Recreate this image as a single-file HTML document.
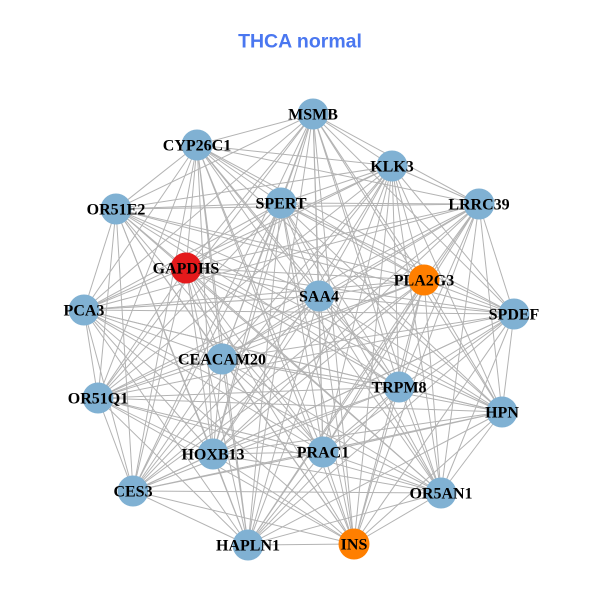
<!DOCTYPE html>
<html><head><meta charset="utf-8"><style>
html,body{margin:0;padding:0;background:#fff;}
svg{display:block;}
</style></head><body>
<svg id="g" width="600" height="600" xmlns="http://www.w3.org/2000/svg">
<rect width="600" height="600" fill="#fff"/>
<text x="300" y="47.5" text-anchor="middle" font-family="Liberation Sans, sans-serif" font-weight="bold" font-size="19.5" fill="#4a77f0">THCA normal</text>
<g id="edges" stroke="#b3b3b3" stroke-width="1" fill="none">
</g>
<g id="nodes"></g>
<g id="labels" font-family="Liberation Serif, serif" font-weight="bold" font-size="16" fill="#000" text-anchor="middle"></g>
</svg>
<script>
var N=[
["MSMB",313,114,"#80b1d3"],
["CYP26C1",197,145,"#80b1d3"],
["KLK3",392,166,"#80b1d3"],
["LRRC39",479,204,"#80b1d3"],
["OR51E2",116,209,"#80b1d3"],
["SPERT",281,203,"#80b1d3"],
["GAPDHS",186,268,"#e41a1c"],
["PLA2G3",424,280,"#ff7f00"],
["SAA4",319,296,"#80b1d3"],
["PCA3",84,310,"#80b1d3"],
["SPDEF",514,314,"#80b1d3"],
["CEACAM20",222,359,"#80b1d3"],
["TRPM8",399,387,"#80b1d3"],
["OR51Q1",98,398,"#80b1d3"],
["HPN",502,412,"#80b1d3"],
["HOXB13",213,454,"#80b1d3"],
["PRAC1",323,452,"#80b1d3"],
["CES3",133,491,"#80b1d3"],
["OR5AN1",441,493,"#80b1d3"],
["HAPLN1",248,545,"#80b1d3"],
["INS",354,544,"#ff7f00"]
];
var ns="http://www.w3.org/2000/svg";
var E=document.getElementById("edges"),Nd=document.getElementById("nodes"),L=document.getElementById("labels");
for(var i=0;i<N.length;i++)for(var j=i+1;j<N.length;j++){
var l=document.createElementNS(ns,"line");
l.setAttribute("x1",N[i][1]);l.setAttribute("y1",N[i][2]);l.setAttribute("x2",N[j][1]);l.setAttribute("y2",N[j][2]);
E.appendChild(l);}
for(var i=0;i<N.length;i++){
var c=document.createElementNS(ns,"circle");
c.setAttribute("cx",N[i][1]);c.setAttribute("cy",N[i][2]);c.setAttribute("r",15.5);c.setAttribute("fill",N[i][3]);
Nd.appendChild(c);
var t=document.createElementNS(ns,"text");
t.setAttribute("x",N[i][1]);t.setAttribute("y",N[i][2]+5.5);t.textContent=N[i][0];
L.appendChild(t);}
</script>
</body></html>
